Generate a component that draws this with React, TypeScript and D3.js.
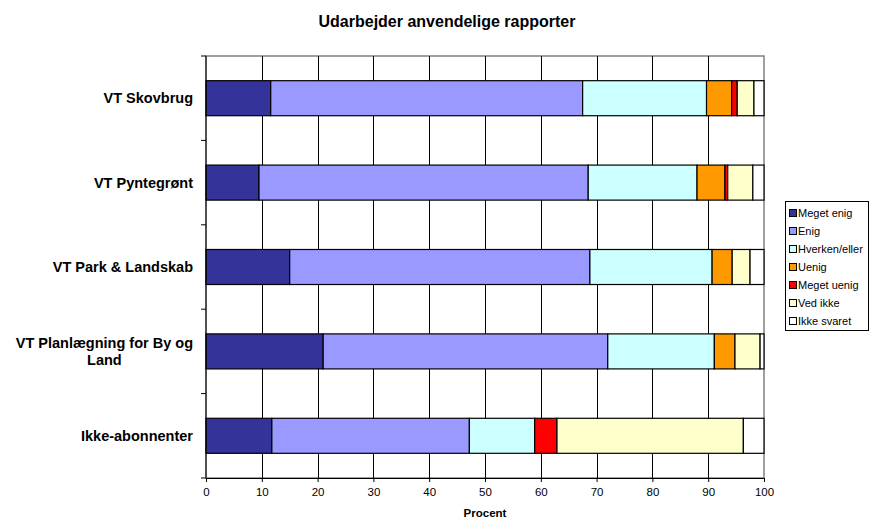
import React, { useEffect, useRef } from 'react';
import * as d3 from 'd3';

const categories = [
  'VT Skovbrug',
  'VT Pyntegrønt',
  'VT Park & Landskab',
  'VT Planlægning for By og Land',
  'Ikke-abonnenter',
];

const seriesNames = ['Meget enig', 'Enig', 'Hverken/eller', 'Uenig', 'Meget uenig', 'Ved ikke', 'Ikke svaret'];
const seriesColors = ['#333399', '#9999FF', '#CCFFFF', '#FF9900', '#FF0000', '#FFFFCC', '#FFFFFF'];

const megetEnig = [11.6, 9.5, 15.0, 21.0, 11.8];
const enig = [55.9, 59.0, 53.8, 51.0, 35.4];
const hverkenEller = [22.2, 19.5, 21.9, 19.1, 11.7];
const uenig = [4.5, 5.0, 3.6, 3.7, 0];
const megetUenig = [1.0, 0.5, 0, 0, 4.0];
const vedIkke = [3.0, 4.5, 3.2, 4.5, 33.4];
const ikkeSvaret = [1.8, 2.0, 2.5, 0.7, 3.7];

const seriesValues = [megetEnig, enig, hverkenEller, uenig, megetUenig, vedIkke, ikkeSvaret];
const xTicks = [0, 10, 20, 30, 40, 50, 60, 70, 80, 90, 100];

const W = 874;
const H = 521;
const FONT = 'Arial, "Liberation Sans", sans-serif';

const App: React.FC = () => {
  const svgRef = useRef<SVGSVGElement>(null);

  useEffect(() => {
    if (!svgRef.current) return;
    const svg = d3.select(svgRef.current);
    svg.selectAll('*').remove();

    const left = 206;
    const right = 764;
    const top = 56;
    const bottom = 478;

    const x = d3.scaleLinear().domain([0, 100]).range([left, right]);
    const y = d3
      .scaleBand<string>()
      .domain(categories)
      .range([top, bottom])
      .paddingInner(0.585)
      .paddingOuter(0.2925);

    const rows = categories.map((c, i) => {
      const r: Record<string, any> = { category: c };
      seriesNames.forEach((s, j) => (r[s] = seriesValues[j][i]));
      return r;
    });
    const stacked = d3.stack<any>().keys(seriesNames)(rows);

    // title
    svg
      .append('text')
      .attr('x', 447)
      .attr('y', 27)
      .attr('text-anchor', 'middle')
      .attr('font-family', FONT)
      .attr('font-weight', 'bold')
      .attr('font-size', 16)
      .text('Udarbejder anvendelige rapporter');

    // plot area border
    svg
      .append('rect')
      .attr('x', left)
      .attr('y', top)
      .attr('width', right - left)
      .attr('height', bottom - top)
      .attr('fill', 'white')
      .attr('stroke', '#808080')
      .attr('stroke-width', 1.5);

    // gridlines
    svg
      .append('g')
      .selectAll('line')
      .data(xTicks.slice(1, -1))
      .join('line')
      .attr('x1', (d) => Math.round(x(d)) + 0.5)
      .attr('x2', (d) => Math.round(x(d)) + 0.5)
      .attr('y1', top)
      .attr('y2', bottom)
      .attr('stroke', '#000');

    // bars
    const layer = svg
      .append('g')
      .selectAll('g')
      .data(stacked)
      .join('g')
      .attr('fill', (_d, i) => seriesColors[i]);

    layer
      .selectAll('rect')
      .data((d) => d.filter((p) => p[1] - p[0] > 0))
      .join('rect')
      .attr('x', (d) => x(d[0]))
      .attr('y', (d) => y(d.data.category)!)
      .attr('width', (d) => x(d[1]) - x(d[0]))
      .attr('height', y.bandwidth())
      .attr('stroke', '#000')
      .attr('stroke-width', 1.2);

    // x axis
    const xAxis = svg
      .append('g')
      .attr('transform', `translate(0,${bottom})`)
      .call(d3.axisBottom(x).tickValues(xTicks).tickSize(4).tickSizeOuter(0));
    xAxis.select('.domain').attr('stroke', '#000');
    xAxis
      .selectAll('text')
      .attr('font-family', FONT)
      .attr('font-size', 11.5)
      .attr('fill', '#000')
      .attr('dy', '0.71em')
      .attr('y', 10);

    // y axis line + ticks at band boundaries
    svg
      .append('line')
      .attr('x1', left)
      .attr('x2', left)
      .attr('y1', top)
      .attr('y2', bottom)
      .attr('stroke', '#000');
    const step = y.step();
    const bounds = d3.range(categories.length + 1).map((i) => top + i * step);
    svg
      .append('g')
      .selectAll('line')
      .data(bounds)
      .join('line')
      .attr('x1', left - 5)
      .attr('x2', left)
      .attr('y1', (d) => d)
      .attr('y2', (d) => d)
      .attr('stroke', '#000');

    // category labels with wrapping
    const labelRight = 193;
    const maxW = 185;
    const fs = 14.5;
    categories.forEach((c) => {
      const cy = y(c)! + y.bandwidth() / 2;
      const t = svg
        .append('text')
        .attr('font-family', FONT)
        .attr('font-weight', 'bold')
        .attr('font-size', fs)
        .attr('text-anchor', 'middle');
      const words = c.split(' ');
      const lines: string[] = [];
      let cur = '';
      const probe = t.append('tspan');
      words.forEach((w) => {
        const test = cur ? cur + ' ' + w : w;
        probe.text(test);
        if ((probe.node() as SVGTSpanElement).getComputedTextLength() > maxW && cur) {
          lines.push(cur);
          cur = w;
        } else {
          cur = test;
        }
      });
      lines.push(cur);
      let widest = 0;
      lines.forEach((l) => {
        probe.text(l);
        widest = Math.max(widest, (probe.node() as SVGTSpanElement).getComputedTextLength());
      });
      probe.remove();
      const cx = labelRight - widest / 2;
      const lh = 16.7;
      lines.forEach((l, i) => {
        t.append('tspan')
          .attr('x', cx)
          .attr('y', cy + (i - (lines.length - 1) / 2) * lh)
          .attr('dy', '0.35em')
          .text(l);
      });
    });

    // x axis title
    svg
      .append('text')
      .attr('x', x(50))
      .attr('y', 517)
      .attr('text-anchor', 'middle')
      .attr('font-family', FONT)
      .attr('font-weight', 'bold')
      .attr('font-size', 11.5)
      .text('Procent');

    // legend
    const lg = svg.append('g');
    lg.append('rect')
      .attr('x', 785.5)
      .attr('y', 201.5)
      .attr('width', 83)
      .attr('height', 129)
      .attr('fill', 'white')
      .attr('stroke', '#000');
    const items = lg
      .selectAll('g.item')
      .data(seriesNames)
      .join('g')
      .attr('class', 'item')
      .attr('transform', (_d, i) => `translate(0,${213 + i * 18})`);
    items
      .append('rect')
      .attr('x', 789.5)
      .attr('y', -3.5)
      .attr('width', 7)
      .attr('height', 7)
      .attr('fill', (_d, i) => seriesColors[i])
      .attr('stroke', '#000');
    items
      .append('text')
      .attr('x', 798)
      .attr('y', 0)
      .attr('dy', '0.35em')
      .attr('font-family', FONT)
      .attr('font-size', 11)
      .text((d) => d);
  }, []);

  return (
    <svg
      ref={svgRef}
      width={W}
      height={H}
      style={{ position: 'absolute', left: 0, top: 0, background: 'white' }}
    />
  );
};

export default App;
